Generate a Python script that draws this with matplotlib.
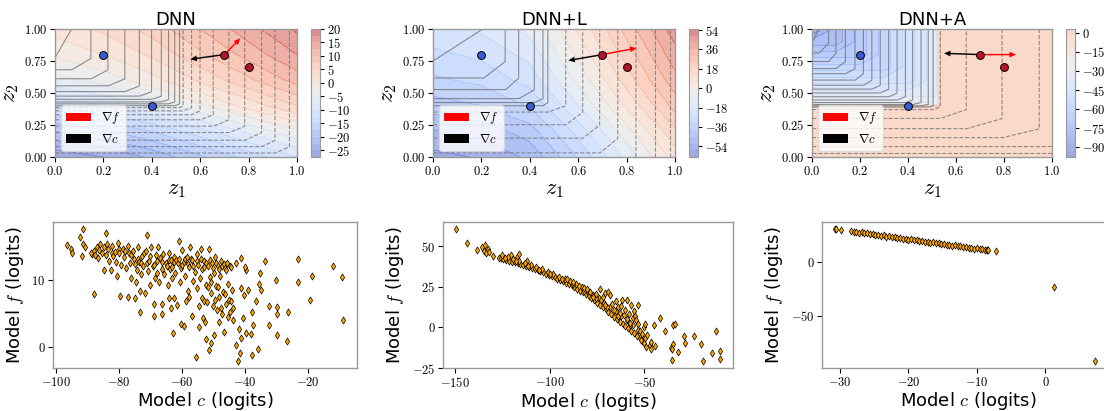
import matplotlib.pyplot as plt
import numpy as np
from matplotlib.patches import Patch

plt.rcParams['font.family'] = 'cmr10'
plt.rcParams['mathtext.fontset'] = 'cm'
plt.rcParams['axes.formatter.use_mathtext'] = True
plt.rcParams['font.size'] = 9

SANS = 'DejaVu Sans'

# ---------------- top row: latent space ----------------
titles = ['DNN', 'DNN+L', 'DNN+A']

blue_z1 = [0.2, 0.4]
blue_z2 = [0.8, 0.4]
red_z1 = [0.7, 0.8]
red_z2 = [0.8, 0.7]
arrow_z1, arrow_z2 = 0.7, 0.8
grad_f = [(0.066, 0.127), (0.141, 0.051), (0.15, 0.0)]
grad_c = [(-0.141, -0.036), (-0.141, -0.046), (-0.15, 0.01)]

# model f (filled colours): value profiles along z1 and z2
dnn_fz = [0.0, 0.2, 0.4, 0.6, 0.8, 1.0]
dnn_f_u = [0, 2, 5, 9, 13, 17]
dnn_f_v = [-27, -20, -12, -6, -2, 1]

dnnl_fz = [0.0, 0.2, 0.4, 0.6, 0.8, 1.0]
dnnl_f_u = [0, 3, 10, 28, 48, 68]
dnnl_f_v = [-60, -52, -42, -34, -28, -22]

dnna_fz1 = [0.0, 0.1, 0.2, 0.3, 0.4, 0.5, 0.52, 0.54, 1.0]
dnna_f_u = [-930, -800, -700, -600, -500, -400, -320, 25, 25]
dnna_fz2 = [0.0, 0.39, 0.41, 0.5, 0.6, 0.7, 0.8, 0.9, 1.0]
dnna_f_v = [25, 25, -300, -400, -500, -600, -700, -800, -930]

# model c (contour lines): line index where each line meets the left / top edge
dnn_cz1 = [0.0, 0.07, 0.15, 0.22, 0.29, 0.35, 0.40, 0.44, 0.47, 0.495, 0.515,
           0.53, 0.565, 0.60, 0.655, 0.72, 0.785, 0.855, 0.91, 0.97, 1.0]
dnn_c_u = [10, 9, 8, 7, 6, 5, 4, 3, 2, 1, 0, -1, -2, -3, -4, -5, -6, -7, -8, -9, -9.5]
dnn_cz2 = [0.0, 0.03, 0.08, 0.13, 0.19, 0.24, 0.29, 0.33, 0.36, 0.385, 0.40,
           0.415, 0.43, 0.45, 0.475, 0.51, 0.555, 0.61, 0.68, 0.77, 1.0]
dnn_c_v = [-9.6, -9, -8, -7, -6, -5, -4, -3, -2, -1, 0, 1, 2, 3, 4, 5, 6, 7, 8, 9, 11.5]

dnnl_cz1 = [0.0, 0.21, 0.30, 0.355, 0.42, 0.455, 0.475, 0.55, 0.62, 0.69, 0.765,
            0.84, 0.92, 0.98, 1.0]
dnnl_c_u = [6, 5, 4, 3, 2, 1, 0, -1, -2, -3, -4, -5, -6, -7, -7.3]
dnnl_cz2 = [0.0, 0.03, 0.145, 0.25, 0.35, 0.40, 0.425, 0.455, 0.525, 0.615, 0.745, 1.0]
dnnl_c_v = [-4.3, -4, -3, -2, -1, 0, 1, 2, 3, 4, 5, 7]

dnna_cz1 = [0.0, 0.03, 0.07, 0.10, 0.14, 0.18, 0.215, 0.25, 0.285, 0.32, 0.355,
            0.39, 0.42, 0.455, 0.485, 0.505, 0.535, 0.645, 0.795, 0.95, 1.0]
dnna_c_u = [15, 14, 13, 12, 11, 10, 9, 8, 7, 6, 5, 4, 3, 2, 1, 0, -1, -2, -3, -4, -4.3]
dnna_cz2 = [0.0, 0.03, 0.08, 0.15, 0.22, 0.30, 0.37, 0.39, 0.40, 0.41, 0.425, 0.445,
            0.47, 0.50, 0.53, 0.56, 0.60, 0.65, 0.69, 0.745, 0.81, 0.89, 1.0]
dnna_c_v = [-6.4, -6, -5, -4, -3, -2, -1, 0, 1, 2, 3, 4, 5, 6, 7, 8, 9, 10, 11, 12,
            13, 14, 15.5]

cbar_ticks = [[-25, -20, -15, -10, -5, 0, 5, 10, 15, 20],
              [-54, -36, -18, 0, 18, 36, 54],
              [-900, -750, -600, -450, -300, -150, 0]]

# ---------------- bottom row: logits scatter ----------------
dnn_points = [
    (-96.5, 15.2), (-95.2, 14.5), (-95.0, 13.9), (-92.3, 16.3), (-91.4, 17.6), (-91.5, 15.3),
    (-91.6, 13.5), (-90.8, 14.8), (-88.0, 7.8), (-88.4, 13.8), (-88.8, 13.9), (-87.8, 14.2),
    (-87.4, 13.6), (-87.0, 14.9), (-86.5, 13.2), (-86.2, 14.4), (-85.8, 15.3), (-85.2, 14.0),
    (-84.8, 14.9), (-84.6, 11.4), (-84.2, 16.9), (-84.0, 13.6), (-83.8, 15.3), (-83.5, 14.6),
    (-83.0, 12.8), (-82.6, 11.4), (-82.3, 15.0), (-82.0, 14.0), (-81.8, 13.5), (-81.2, 14.1),
    (-80.8, 12.6), (-80.5, 10.5), (-80.2, 15.4), (-80.0, 14.6), (-79.8, 13.9), (-79.6, 7.5),
    (-79.2, 12.2), (-78.8, 14.6), (-78.3, 13.3), (-78.0, 14.3), (-77.8, 11.8), (-77.0, 7.4),
    (-77.2, 15.0), (-76.8, 13.9), (-76.4, 12.4), (-76.2, 13.6), (-76.0, 10.3), (-75.6, 14.3),
    (-74.7, 7.3), (-75.0, 13.0), (-74.8, 12.3), (-74.6, 9.6), (-74.3, 11.5), (-74.0, 14.8),
    (-73.9, 13.1), (-73.6, 12.6), (-73.2, 5.2), (-73.2, 8.3), (-73.0, 12.4), (-72.9, 10.8),
    (-72.6, 13.5), (-72.2, 12.0), (-72.0, 13.9), (-71.8, 8.0), (-71.0, 16.7), (-71.2, 14.2),
    (-71.0, 12.5), (-70.8, 11.3), (-70.4, 12.8), (-70.2, 13.5), (-70.0, 9.2), (-69.6, 14.8),
    (-68.7, 6.4), (-68.7, 4.6), (-69.0, 12.0), (-68.8, 12.2), (-68.5, 10.3), (-68.2, 13.6),
    (-68.0, 12.7), (-67.8, 11.0), (-67.5, 14.9), (-67.2, 9.6), (-67.0, 13.2), (-66.3, 6.3),
    (-66.3, 4.8), (-66.4, 12.6), (-66.2, 11.6), (-66.0, 13.8), (-65.6, 10.8), (-64.0, 7.3),
    (-63.4, 5.8), (-65.0, 12.5), (-64.8, 12.1), (-64.4, 9.2), (-64.1, 14.0), (-64.0, 12.9),
    (-63.8, 11.6), (-62.9, 2.1), (-63.4, 12.9), (-63.2, 11.9), (-63.0, 10.2), (-62.6, 7.2),
    (-62.5, 12.6), (-62.3, 13.3), (-62.0, 11.0), (-61.8, 12.9), (-61.6, 6.2), (-61.3, 12.4),
    (-60.8, 15.7), (-60.8, 13.0), (-60.6, 9.6), (-60.3, 3.3), (-60.2, 11.8), (-60.0, 12.2),
    (-59.8, 14.4), (-59.2, 3.1), (-59.2, 12.6), (-59.0, 13.0), (-58.9, 10.6), (-58.6, 6.8),
    (-58.3, 13.4), (-58.0, 8.3), (-58.0, 12.3), (-57.7, 11.9), (-57.4, 14.9), (-57.2, 13.1),
    (-56.6, 4.6), (-56.8, 12.9), (-56.5, 9.8), (-56.3, 12.0), (-57.6, 7.4), (-55.5, -1.5),
    (-55.8, 11.2), (-54.5, 2.9), (-55.3, 13.8), (-55.0, 8.8), (-55.0, 12.7), (-54.7, 12.2),
    (-54.4, 6.1), (-54.1, 10.3), (-54.0, 13.0), (-53.8, 14.6), (-53.6, 7.3), (-53.5, 11.6),
    (-53.2, 4.2), (-53.0, 11.9), (-52.9, 12.8), (-52.8, 6.8), (-52.7, 3.7), (-52.4, 9.2),
    (-52.2, 1.2), (-52.2, 12.4), (-52.0, 6.6), (-51.8, 8.9), (-51.7, 12.0), (-51.4, 14.6),
    (-51.2, -0.5), (-51.0, 10.4), (-51.0, 12.9), (-50.8, 0.5), (-50.8, 9.7), (-50.6, 8.0),
    (-50.3, 12.4), (-50.0, 6.0), (-50.0, 11.8), (-49.8, 1.7), (-49.6, 11.0), (-49.5, 6.9),
    (-49.3, 13.3), (-49.0, 9.0), (-49.0, 12.4), (-48.7, 5.5), (-48.5, 8.9), (-48.4, 12.0),
    (-48.2, 3.7), (-48.0, 7.4), (-48.0, 11.6), (-47.7, 10.6), (-47.5, 5.7), (-47.4, 12.8),
    (-47.2, 12.0), (-47.1, 4.9), (-46.8, 8.2), (-46.6, 2.2), (-46.5, 12.3), (-46.3, 11.7),
    (-46.2, 7.9), (-46.0, 6.4), (-45.8, 11.5), (-45.6, 12.4), (-45.3, 9.3), (-45.2, 4.4),
    (-45.0, 7.0), (-44.8, 12.0), (-44.6, 5.2), (-44.3, 11.9), (-44.2, 6.8), (-44.0, 8.5),
    (-43.7, 4.0), (-43.7, 5.8), (-42.7, 0.2), (-42.1, -2.2), (-42.8, 12.4), (-41.4, -1.0),
    (-41.8, 2.7), (-41.1, 1.3), (-41.3, 8.8), (-41.1, 13.2), (-39.5, 11.5), (-40.6, 4.2),
    (-40.2, 7.7), (-39.8, 11.9), (-39.5, 2.0), (-37.6, -1.3), (-38.8, 8.5), (-37.3, 3.25),
    (-35.9, -0.3), (-37.9, 1.9), (-37.6, 5.1), (-35.2, 11.0), (-35.6, 9.3), (-34.9, 8.5),
    (-36.3, 6.8), (-32.3, 6.1), (-32.2, 3.25), (-33.6, 12.7), (-30.2, 9.9), (-29.6, 5.9),
    (-29.6, 4.8), (-29.8, 1.7), (-26.4, 0.8), (-26.3, 5.2), (-23.1, 13.0), (-22.9, 9.7),
    (-19.4, 6.9), (-18.6, 10.6), (-12.0, 12.1), (-9.0, 10.4), (-8.7, 4.0),
]

dnnl_points = [
    (-149.5, 60.8), (-143.9, 52.0), (-138.6, 47.8), (-135.8, 49.5), (-135.0, 47.0),
    (-134.3, 50.6), (-133.6, 45.5), (-132.8, 48.5), (-132.2, 46.2), (-129.9, 43.7),
    (-127.0, 43.0), (-120.5, 44.5), (-117.5, 43.2), (-116.5, 45.0), (-111.8, 40.9),
    # dense band
    (-126.0, 43.0), (-124.5, 42.3), (-123.0, 41.7), (-121.5, 41.1), (-120.0, 40.5),
    (-118.5, 40.0), (-117.0, 39.5), (-115.5, 39.0), (-114.0, 38.4), (-112.5, 37.8),
    (-111.0, 37.2), (-109.5, 36.6), (-108.0, 35.9), (-106.5, 35.2), (-105.0, 34.5),
    (-103.5, 33.8), (-102.0, 33.0), (-100.5, 32.3), (-99.0, 31.5), (-97.5, 30.8),
    (-96.0, 30.0), (-94.5, 29.2), (-93.0, 28.4), (-91.5, 27.6), (-90.0, 26.8),
    (-88.5, 25.8), (-87.0, 24.8), (-85.5, 23.8), (-84.0, 22.7), (-82.5, 21.5),
    (-81.0, 20.3), (-79.5, 19.1), (-78.0, 17.8), (-76.5, 16.6), (-75.0, 15.3),
    (-73.5, 14.0), (-72.0, 12.6), (-70.5, 11.3), (-69.0, 9.7), (-67.5, 8.2),
    (-66.0, 6.6), (-64.5, 5.0), (-63.0, 3.6), (-61.5, 2.2), (-60.0, 0.8),
    (-58.5, -0.6), (-57.0, -2.1), (-55.5, -3.5), (-54.0, -5.1), (-52.5, -6.8),
    (-51.0, -8.4), (-50.0, -9.5),
    (-125.2, 44.3), (-122.2, 43.3), (-119.2, 42.0), (-116.2, 41.0), (-113.2, 39.8),
    (-110.2, 38.5), (-107.2, 37.3), (-104.2, 35.8), (-101.2, 34.2), (-98.2, 32.6),
    (-95.2, 31.1), (-92.2, 29.6), (-89.2, 28.3), (-86.2, 26.5), (-83.2, 24.6),
    (-80.2, 22.5), (-77.2, 20.2), (-74.2, 17.8), (-71.2, 15.0), (-68.2, 12.5),
    (-65.2, 9.8), (-62.2, 7.0), (-59.2, 4.3), (-56.2, 1.4), (-53.2, -1.8),
    (-123.7, 42.6), (-117.7, 40.6), (-111.7, 38.0), (-105.7, 35.6), (-99.7, 32.9),
    (-93.7, 29.9), (-87.7, 26.6), (-81.7, 22.4), (-75.7, 17.9), (-69.7, 12.6),
    (-63.7, 6.9), (-57.7, 1.5), (-51.7, -5.4),
    # scatter above the band
    (-91.0, 29.5), (-87.5, 27.8), (-84.5, 25.5), (-82.0, 24.0), (-80.5, 23.5),
    (-78.5, 22.0), (-77.0, 18.5), (-75.5, 20.5), (-73.6, 23.8), (-73.0, 17.0),
    (-72.0, 19.0), (-71.0, 13.5), (-70.6, 21.3), (-69.4, 21.8), (-68.0, 19.7),
    (-67.0, 14.5), (-66.0, 11.0), (-65.0, 16.0), (-64.0, 12.5), (-63.0, 9.0),
    (-62.5, 13.0), (-62.0, 16.6), (-61.0, 7.5), (-60.5, 10.5), (-59.4, 16.6),
    (-59.0, 5.0), (-58.0, 8.0), (-57.5, 3.0), (-56.8, 13.5), (-56.0, 6.0),
    (-55.5, 10.0), (-54.7, 7.1), (-54.2, 4.3), (-53.5, 2.0), (-53.3, 13.9),
    (-52.5, -2.0), (-52.0, -7.5), (-51.5, -4.0), (-50.0, 0.5), (-49.8, 2.2),
    (-49.5, -6.5), (-48.5, -4.5), (-48.9, -11.8), (-47.2, -10.7), (-46.3, -8.7),
    (-44.6, -11.4), (-46.3, -13.0), (-44.7, 1.6), (-41.9, 5.8), (-39.3, -2.5),
    (-35.9, -12.5), (-35.4, -13.6), (-34.9, -10.5), (-35.4, -20.1), (-32.4, -15.4),
    (-34.9, 1.2), (-33.7, 1.8), (-29.3, -5.5), (-28.4, -9.9), (-24.0, -5.1),
    (-20.2, -10.4), (-18.8, -20.9), (-14.3, -15.6), (-12.3, -2.3), (-10.1, -14.4),
    (-10.1, -19.7),
]

dnna_points = [
    (-30.7, 30.3), (-30.6, 29.8), (-29.8, 29.4),
    (-28.4, 28.2), (-28.0, 27.3), (-27.6, 27.5), (-27.2, 26.6), (-26.8, 26.8), (-26.4, 25.9),
    (-26.0, 26.1), (-25.6, 25.1), (-25.2, 25.4), (-24.8, 24.4), (-24.4, 24.7), (-24.0, 23.7),
    (-23.6, 24.0), (-23.2, 23.0), (-22.8, 23.3), (-22.4, 22.3), (-22.0, 22.6), (-21.6, 21.6),
    (-21.2, 21.9), (-20.8, 20.9), (-20.4, 21.2), (-20.0, 20.2), (-19.6, 20.5), (-19.2, 19.5),
    (-18.8, 19.8), (-18.4, 18.8), (-18.0, 19.1), (-17.6, 18.1), (-17.2, 18.4), (-16.8, 17.4),
    (-16.4, 17.7), (-16.0, 16.7), (-15.6, 17.0), (-15.2, 16.0), (-14.8, 16.2), (-14.4, 15.3),
    (-14.0, 15.5), (-13.6, 14.6), (-13.2, 14.8), (-12.8, 13.9), (-12.4, 14.1), (-12.0, 13.2),
    (-11.6, 13.4), (-11.2, 12.5), (-10.8, 12.7), (-10.4, 11.8), (-10.0, 12.0), (-9.6, 11.1),
    (-9.2, 11.3), (-8.8, 10.4), (-8.6, 10.9), (-8.5, 10.6), (-8.4, 10.2),
    (-7.2, 9.8), (1.2, -23.9), (7.3, -92.0),
]

bottom_xticks = [[-100, -80, -60, -40, -20], [-150, -100, -50], [-30, -20, -10, 0, 10]]
bottom_yticks = [[0, 10], [-25, 0, 25, 50], [-50, 0]]

# ---------------- figure ----------------
W, H = 1104, 411
fig = plt.figure(figsize=(W / 100, H / 100), dpi=100)


def box(x0, y0, w, h):
    return [x0 / W, 1 - (y0 + h) / H, w / W, h / H]


def style(ax):
    for s in ax.spines.values():
        s.set_color('0.6')
        s.set_linewidth(1.0)
    ax.tick_params(direction='out', length=3.5, width=0.8, labelsize=9, pad=2)


f_fields = [
    (dnn_fz, dnn_fz, np.add.outer(dnn_f_v, dnn_f_u)),
    (dnnl_fz, dnnl_fz, np.add.outer(dnnl_f_v, dnnl_f_u)),
    (dnna_fz1, dnna_fz2, np.maximum.outer(dnna_f_v, dnna_f_u)),
]
c_fields = [
    (dnn_cz1, dnn_cz2, np.minimum.outer(dnn_c_v, dnn_c_u), np.arange(-9, 10)),
    (dnnl_cz1, dnnl_cz2, np.minimum.outer(dnnl_c_v, dnnl_c_u), np.arange(-7, 6)),
    (dnna_cz1, dnna_cz2, np.minimum.outer(dnna_c_v, dnna_c_u), np.arange(-6, 15)),
]
f_levels = [np.linspace(-27.5, 20, 20), np.linspace(-64, 55, 20), np.linspace(-975, 30, 21)]
f_norms = [plt.Normalize(-27.5, 20), plt.Normalize(-64, 55), plt.Normalize(-975, 475)]

top_x = [55, 433, 812]
top_w = [242, 242, 240]
cbar_x = [311, 689, 1066]

for i in range(3):
    ax = fig.add_axes(box(top_x[i], 29, top_w[i], 128))
    fx, fy, F = f_fields[i]
    cf = ax.contourf(fx, fy, F, levels=f_levels[i], cmap='coolwarm', norm=f_norms[i], alpha=0.5)
    cx, cy, C, lev = c_fields[i]
    ax.contour(cx, cy, C, levels=lev + 0.02, colors='0.45', linewidths=0.8, alpha=0.8)

    ax.quiver(arrow_z1, arrow_z2, grad_c[i][0], grad_c[i][1], angles='xy', scale_units='xy',
              scale=1, color='k', width=0.006, headwidth=4, headlength=4.5, zorder=4)
    ax.quiver(arrow_z1, arrow_z2, grad_f[i][0], grad_f[i][1], angles='xy', scale_units='xy',
              scale=1, color='red', width=0.006, headwidth=4, headlength=4.5, zorder=4)
    ax.scatter(blue_z1, blue_z2, s=32, color='#3b5bd6', edgecolors='k', linewidths=0.7, zorder=5)
    ax.scatter(red_z1, red_z2, s=32, color='#b5152b', edgecolors='k', linewidths=0.7, zorder=5)

    ax.set_xlim(0, 1)
    ax.set_ylim(0, 1)
    ax.set_xticks([0.0, 0.2, 0.4, 0.6, 0.8, 1.0])
    ax.set_yticks([0.0, 0.25, 0.5, 0.75, 1.0])
    ax.set_xlabel(r'$z_1$', fontsize=16, labelpad=2)
    ax.set_ylabel(r'$z_2$', fontsize=16, labelpad=2)
    ax.set_title(titles[i], fontsize=13, family=SANS, pad=3)
    style(ax)

    handles = [Patch(facecolor='red'), Patch(facecolor='black')]
    ax.legend(handles, [r'$\nabla f$', r'$\nabla c$'], loc='lower left', fontsize=9,
              framealpha=0.8, edgecolor='0.85', borderaxespad=0.5)

    cax = fig.add_axes(box(cbar_x[i], 29, 9, 128))
    cb = fig.colorbar(cf, cax=cax)
    cb.set_ticks(cbar_ticks[i])
    cb.outline.set_edgecolor('0.6')
    cax.tick_params(labelsize=9, length=3, width=0.8, pad=2)

# bottom row
bot_x = [53, 443, 822]
bot_w = [304, 290, 292]
all_points = [dnn_points, dnnl_points, dnna_points]

for i in range(3):
    ax = fig.add_axes(box(bot_x[i], 222, bot_w[i], 146))
    pts = np.array(all_points[i])
    ax.scatter(pts[:, 0], pts[:, 1], marker='d', s=13, color='orange',
               edgecolors='k', linewidths=0.5)
    ax.set_xticks(bottom_xticks[i])
    ax.set_yticks(bottom_yticks[i])
    ax.set_xlabel(r'Model $c$ (logits)', fontsize=13, family=SANS, labelpad=1)
    ax.set_ylabel(r'Model $f$ (logits)', fontsize=13, family=SANS, labelpad=4)
    style(ax)

fig.savefig('out.png', dpi=100)
